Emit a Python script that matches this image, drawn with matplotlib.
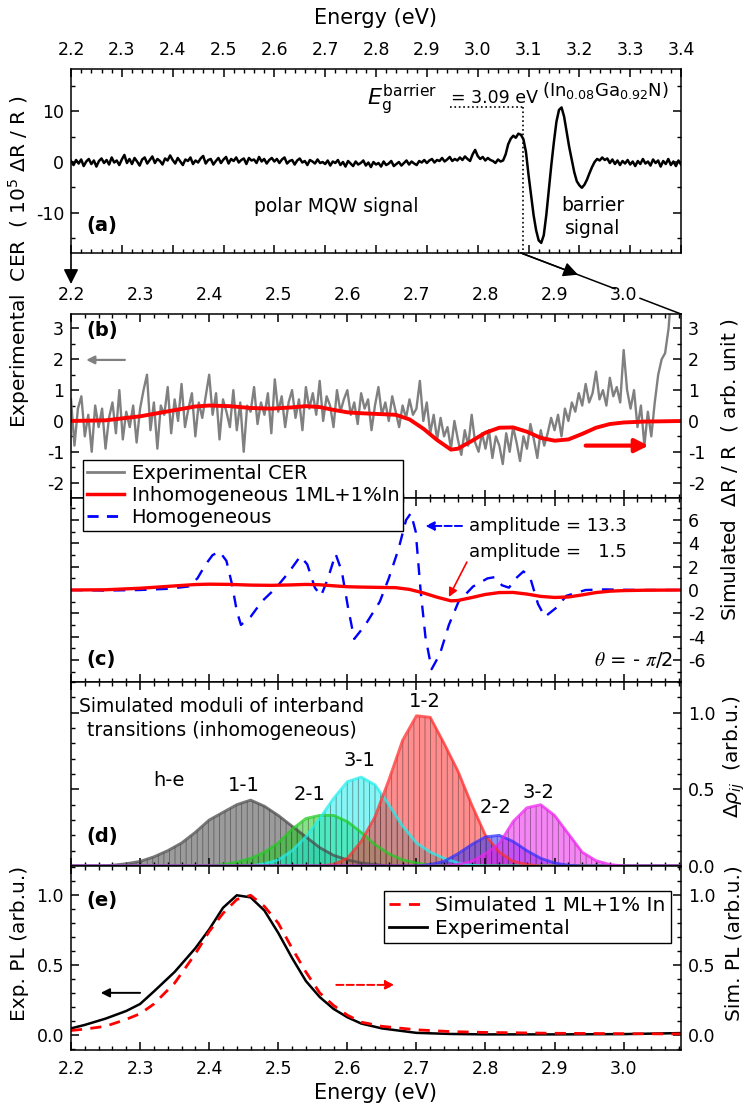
import matplotlib.pyplot as plt
import numpy as np
from matplotlib.lines import Line2D
from matplotlib.patches import FancyArrowPatch
from matplotlib.ticker import MultipleLocator

plt.rcParams['font.family'] = ['DejaVu Sans']
plt.rcParams['axes.unicode_minus'] = False
plt.rcParams['hatch.linewidth'] = 0.6
plt.rcParams['axes.linewidth'] = 1.1

# ---------------- data ----------------
# (a) experimental CER (1e-5 dR/R), 2.200 ... 3.400 eV, 5 meV step
cer_a = [0.2, -0.6, 0.4, -0.3, 0.5, -0.8, 0.1, 0.6, -0.4, 0.3, -0.9, 0.2, 0.7, -0.2, 0.4, -0.5, 0.9, -0.1, 0.3, -0.6,
         0.5, 1.4, -0.2, 0.6, -0.4, 0.8, 0.1, -0.7, 0.5, 0.9, -0.3, 0.4, 1.1, -0.2, 0.6, 0.2, -0.5, 0.7, 0.3, 1.3,
         0.4, -0.3, 0.8, 0.1, -0.6, 0.5, 0.2, 0.9, -0.4, 0.3, -0.1, 0.7, 1.2, -0.3, 0.4, 0.6, -0.5, 0.2, 0.8, -0.2,
         0.5, 1.0, -0.3, 0.6, 0.2, 0.9, -0.1, 0.4, 0.7, -0.4, 0.8, 0.3, 0.5, -0.2, 1.0, 0.1, 0.6, -0.3, 0.4, 0.8,
         0.1, 0.6, -0.2, 0.5, 0.9, -0.3, 0.2, 0.4, -0.5, 0.3, 0.7, -0.1, 0.2, -0.6, 0.4, 0.1, -0.3, 0.5, -0.2, 0.0,
         -0.4, 0.3, -0.7, 0.1, -0.2, 0.4, -0.6, 0.0, -0.9, 0.2, -0.3, -0.8, 0.1, -0.5, -0.2, 0.3, -0.7, -0.1, -1.0, 0.0,
         -0.5, -0.2, -0.9, 0.1, -0.6, -0.3, 0.2, -0.8, -0.4, 0.0, -0.7, -0.2, 0.3, -0.5, 0.1, -0.3, -0.6, 0.2, -0.1, 0.4,
         -0.2, 0.3, 0.6, -0.1, 0.4, 0.2, 0.8, 0.1, 0.5, 1.0, 0.2, 0.6, 0.3, 0.9, 0.4, 1.1, 0.6, 0.2, 1.5, 2.4,
         1.2, 0.6, 1.0, 0.3, 0.8, 0.4, 0.2, -0.2, 0.5, 0.1, 0.3, 1.5, 3.5, 4.6, 5.2, 4.8, 5.6, 5.4, 4.5, 2.0,
         -2.5, -6.5, -10.5, -13.5, -15.5, -16.0, -14.5, -10.5, -5.5, -0.5, 4.0, 8.0, 10.3, 10.8, 9.0, 6.0, 3.0, 0.5, -2.0, -3.8,
         -4.6, -5.1, -4.5, -3.5, -2.2, -1.0, 0.0, 0.6, 0.3, 0.9, 0.4, 0.7, -0.2, 0.5, -0.4, 0.3, -0.6, 0.2, -0.3, 0.4,
         -0.5, 0.1, -0.8, 0.2, -0.4, 0.6, -0.3, 0.1, -0.7, 0.5, -0.2, 0.3, -0.9, 0.2, -0.4, 0.6, -0.6, 0.1, -0.8, 0.3, -0.5]
energy_a = np.round(2.2 + 0.005 * np.arange(len(cer_a)), 3)
eg_barrier = 3.09

# (b) experimental CER zoomed, 2.200 ... 3.070 eV, 5 meV step
cer_b = [0.7, -0.8, 0.4, 0.8, -0.5, 0.2, -1.0, 0.5, -0.2, 0.4, -0.9, 0.1, 0.6, -0.4, 1.0, -0.6, 0.3, -0.2, 0.5, -0.7,
         0.4, 1.0, 1.5, -0.3, 0.6, -0.9, 0.5, 0.2, 1.1, -0.4, 0.7, 0.0, 1.2, -0.2, 0.4, 0.9, -0.5, 0.6, 0.1, 0.8,
         1.5, 0.2, 0.9, -0.6, 0.7, 0.3, -0.2, 1.0, -0.3, 0.6, -1.0, 0.5, 0.3, 1.1, -0.1, 0.6, 0.2, 0.9, -0.4, 1.35,
         0.3, 0.8, -0.2, 0.6, 1.0, 0.1, 0.7, -0.3, 1.1, 0.4, 0.9, 0.2, 1.3, 0.0, 0.8, 0.5, -0.2, 1.0, 0.3, 0.7,
         1.0, 0.2, 0.6, -0.1, 0.9, 0.4, 0.7, -0.3, 0.5, 1.1, 0.2, 0.6, 0.0, 0.8, 0.3, -0.2, 0.5, 0.1, 0.7, 0.2,
         0.4, 1.3, 0.0, 0.6, -0.4, 0.2, -0.6, 0.1, -0.5, -0.2, -0.9, 0.0, -0.6, -1.1, -0.3, -0.8, 0.2, -0.7, -1.0, -0.4,
         -0.9, -0.3, -1.2, -0.5, -0.8, -1.4, -0.4, -1.0, -0.2, -0.7, -1.3, -0.5, -0.9, -0.1, -0.6, -1.2, -0.3, -0.8, -0.4, 0.1,
         -0.3, 0.2, -0.5, 0.4, 0.0, 0.6, 0.3, 0.9, 0.5, 1.2, 0.6, 0.9, 1.6, 0.7, 1.0, 0.5, 1.4, 0.8, 1.1, 0.6,
         2.3, 1.0, 0.4, 1.0, -0.2, 0.5, -0.8, 0.3, -0.5, 0.6, 1.5, 2.0, 2.2, 3.0, 4.5]
energy_b = np.round(2.2 + 0.005 * np.arange(len(cer_b)), 3)

# simulated CER, inhomogeneous 1ML+1%In (b, c)
sim_E = [2.20, 2.25, 2.30, 2.35, 2.38, 2.40, 2.43, 2.46, 2.49, 2.52, 2.54, 2.56, 2.58, 2.60, 2.62, 2.65, 2.67, 2.69,
         2.71, 2.73, 2.75, 2.76, 2.78, 2.80, 2.82, 2.84, 2.86, 2.88, 2.90, 2.92, 2.94, 2.96, 2.98, 3.00, 3.03, 3.06, 3.09]
sim_inhom = [0.0, 0.02, 0.15, 0.35, 0.47, 0.50, 0.48, 0.42, 0.40, 0.44, 0.48, 0.45, 0.36, 0.28, 0.25, 0.22, 0.20, 0.05,
             -0.25, -0.62, -0.93, -0.90, -0.65, -0.38, -0.22, -0.21, -0.35, -0.55, -0.64, -0.60, -0.42, -0.22, -0.10,
             -0.05, -0.02, -0.01, 0.0]

# simulated CER, homogeneous (c)
hom_E = [2.20, 2.25, 2.30, 2.34, 2.37, 2.383, 2.395, 2.405, 2.415, 2.425, 2.433, 2.440, 2.446, 2.46, 2.476, 2.497,
         2.515, 2.532, 2.542, 2.553, 2.562, 2.572, 2.583, 2.592, 2.601, 2.610, 2.626, 2.647, 2.660, 2.674, 2.685,
         2.692, 2.699, 2.706, 2.713, 2.722, 2.734, 2.747, 2.761, 2.782, 2.803, 2.813, 2.824, 2.834, 2.844, 2.855,
         2.865, 2.876, 2.886, 2.903, 2.917, 2.945, 2.973, 3.02, 3.09]
hom_amp = [0.0, -0.05, 0.0, 0.1, 0.3, 1.0, 2.2, 3.0, 3.3, 2.5, 0.5, -1.8, -3.0, -2.3, -1.0, 0.2, 1.5, 2.9, 2.2, 0.2,
           -0.5, 1.0, 3.1, 1.6, -1.5, -4.2, -3.0, -1.0, 1.0, 3.5, 6.0, 6.6, 5.0, 0.0, -4.0, -6.8, -5.5, -3.0, -1.0,
           0.3, 1.0, 1.1, 0.4, 0.2, 1.0, 1.6, 1.0, -1.2, -2.3, -1.5, -0.5, 0.0, 0.05, 0.0, 0.0]

# (d) moduli of interband transitions, 2.20 ... 3.08 eV, 20 meV step
mod_E = np.round(2.2 + 0.02 * np.arange(45), 2)
mod_11 = [0, 0, 0, 0.005, 0.015, 0.03, 0.06, 0.10, 0.15, 0.22,
          0.30, 0.35, 0.40, 0.43, 0.39, 0.33, 0.26, 0.19, 0.12, 0.07,
          0.04, 0.02, 0.01, 0, 0, 0, 0, 0, 0, 0,
          0, 0, 0, 0, 0, 0, 0, 0, 0, 0, 0, 0, 0, 0, 0]
mod_21 = [0, 0, 0, 0, 0, 0, 0, 0, 0, 0,
          0, 0.01, 0.025, 0.05, 0.09, 0.15, 0.24, 0.31, 0.33, 0.33,
          0.29, 0.22, 0.14, 0.08, 0.04, 0.02, 0.005, 0, 0, 0,
          0, 0, 0, 0, 0, 0, 0, 0, 0, 0, 0, 0, 0, 0, 0]
mod_31 = [0, 0, 0, 0, 0, 0, 0, 0, 0, 0,
          0, 0, 0, 0, 0.015, 0.04, 0.10, 0.19, 0.31, 0.44,
          0.55, 0.58, 0.53, 0.40, 0.26, 0.15, 0.09, 0.05, 0.02, 0.005,
          0, 0, 0, 0, 0, 0, 0, 0, 0, 0, 0, 0, 0, 0, 0]
mod_12 = [0, 0, 0, 0, 0, 0, 0, 0, 0, 0,
          0, 0, 0, 0, 0, 0, 0, 0, 0, 0.01,
          0.05, 0.16, 0.32, 0.56, 0.82, 0.98, 0.97, 0.80, 0.62, 0.40,
          0.20, 0.09, 0.03, 0.01, 0, 0, 0, 0, 0, 0, 0, 0, 0, 0, 0]
mod_22 = [0, 0, 0, 0, 0, 0, 0, 0, 0, 0,
          0, 0, 0, 0, 0, 0, 0, 0, 0, 0,
          0, 0, 0, 0, 0, 0, 0.01, 0.03, 0.08, 0.14,
          0.19, 0.20, 0.16, 0.10, 0.05, 0.02, 0.005, 0, 0, 0, 0, 0, 0, 0, 0]
mod_32 = [0, 0, 0, 0, 0, 0, 0, 0, 0, 0,
          0, 0, 0, 0, 0, 0, 0, 0, 0, 0,
          0, 0, 0, 0, 0, 0, 0, 0, 0.01, 0.03,
          0.08, 0.145, 0.29, 0.38, 0.40, 0.33, 0.21, 0.09, 0.035, 0.01, 0, 0, 0, 0, 0]
mod_names = ['1-1', '2-1', '3-1', '1-2', '2-2', '3-2']

# (e) photoluminescence
pl_E = [2.20, 2.22, 2.25, 2.28, 2.30, 2.32, 2.35, 2.38, 2.40, 2.42, 2.44, 2.46, 2.48, 2.50, 2.52, 2.54, 2.56, 2.58,
        2.60, 2.62, 2.65, 2.70, 2.75, 2.80, 2.90, 3.00, 3.09]
pl_exp = [0.045, 0.07, 0.115, 0.17, 0.22, 0.31, 0.45, 0.62, 0.755, 0.91, 1.0, 0.985, 0.89, 0.73, 0.55, 0.385, 0.27,
          0.185, 0.125, 0.08, 0.045, 0.013, 0.005, 0.002, 0.002, 0.004, 0.012]
pl_sim = [0.03, 0.04, 0.06, 0.11, 0.15, 0.22, 0.37, 0.58, 0.74, 0.87, 0.97, 1.0, 0.92, 0.80, 0.62, 0.45, 0.30, 0.21,
          0.14, 0.09, 0.06, 0.035, 0.022, 0.016, 0.01, 0.007, 0.005]

# ---------------- figure ----------------
W, H = 750, 1110
fig = plt.figure(figsize=(W / 100, H / 100), dpi=100)


def fp(x, y):
    # image pixel -> figure fraction
    return (x / W, 1 - y / H)


def panel(top):
    return fig.add_axes([71 / W, 1 - (top + 184) / H, 610 / W, 184 / H])


def style(ax, ymaj, ymin, xmaj=0.1, xmin=0.02):
    ax.xaxis.set_major_locator(MultipleLocator(xmaj))
    ax.xaxis.set_minor_locator(MultipleLocator(xmin))
    ax.yaxis.set_major_locator(MultipleLocator(ymaj))
    ax.yaxis.set_minor_locator(MultipleLocator(ymin))
    ax.tick_params(which='both', direction='in', top=True, bottom=True, left=True, right=True, labelsize=12.5)
    ax.tick_params(which='major', length=6, width=1.1)
    ax.tick_params(which='minor', length=3, width=1.0)
    ax.tick_params(axis='x', which='both', pad=7)
    ax.tick_params(axis='y', which='both', pad=5)


ax_a = panel(69)
ax_b = panel(314)
ax_c = panel(498)
ax_d = panel(682)
ax_e = panel(866)
xr = (2.2, 3.083)

# (a)
ax_a.plot(energy_a, cer_a, color='k', lw=1.8)
ax_a.plot([2.945, eg_barrier], [10.8, 10.8], ls=':', color='k', lw=1.2)
ax_a.plot([eg_barrier, eg_barrier], [10.8, -18.5], ls=':', color='k', lw=1.2)
ax_a.set_xlim(2.2, 3.4)
ax_a.set_ylim(-18, 18.4)
style(ax_a, 10, 5)
ax_a.tick_params(labeltop=True, labelbottom=False)
ax_a.text(2.782, 11.3, r'$E_\mathrm{g}^\mathrm{barrier}$', fontsize=16, va='baseline')
ax_a.text(2.948, 11.6, '= 3.09 eV', fontsize=12.5, va='baseline')
ax_a.text(3.126, 13.0, r'(In$_{0.08}$Ga$_{0.92}$N)', fontsize=13, va='baseline')
ax_a.text(2.721, -8.9, 'polar MQW signal', fontsize=13.5, ha='center', va='center')
ax_a.text(3.227, -10.9, 'barrier\nsignal', fontsize=13.5, ha='center', va='center', linespacing=1.3)
ax_a.text(0.025, 0.15, '(a)', transform=ax_a.transAxes, fontsize=14, fontweight='bold', va='center')

# (b)
ax_b.plot(energy_b, cer_b, color='#808080', lw=1.7)
ax_b.plot(sim_E, sim_inhom, color='red', lw=2.8)
ax_b.set_xlim(*xr)
ax_b.set_ylim(-2.5, 3.47)
style(ax_b, 1, 0.5)
ax_b.tick_params(labeltop=True, labelbottom=False, labelright=True)
ax_b.text(0.025, 0.913, '(b)', transform=ax_b.transAxes, fontsize=14, fontweight='bold', va='center')
ax_b.annotate('', xy=(2.222, 1.98), xytext=(2.278, 1.98),
              arrowprops=dict(arrowstyle='-|>', color='#808080', lw=1.6, mutation_scale=12, shrinkA=0, shrinkB=0))
ax_b.annotate('', xy=(3.036, -0.8), xytext=(2.945, -0.8),
              arrowprops=dict(arrowstyle='-|>', color='red', lw=3, mutation_scale=20, shrinkA=0, shrinkB=0))

# (c)
ax_c.plot(hom_E, hom_amp, color='blue', lw=1.7, ls=(0, (5, 4)))
ax_c.plot(sim_E, sim_inhom, color='red', lw=2.4)
ax_c.set_xlim(*xr)
ax_c.set_ylim(-7.9, 7.9)
style(ax_c, 2, 1)
ax_c.tick_params(labelbottom=False, labelleft=False, labelright=True)
ax_c.text(0.025, 0.12, '(c)', transform=ax_c.transAxes, fontsize=14, fontweight='bold', va='center')
ax_c.text(0.988, 0.12, r'$\theta$ = - $\pi$/2', transform=ax_c.transAxes, fontsize=14, ha='right', va='center',
          math_fontfamily='stix')
ax_c.text(0.652, 0.848, 'amplitude = 13.3', transform=ax_c.transAxes, fontsize=13, va='center')
ax_c.text(0.652, 0.707, 'amplitude =   1.5', transform=ax_c.transAxes, fontsize=13, va='center')
ax_c.annotate('', xy=(2.713, 5.5), xytext=(2.766, 5.5),
              arrowprops=dict(arrowstyle='-|>', color='blue', lw=1.4, ls='--', mutation_scale=13, shrinkA=0, shrinkB=0))
ax_c.annotate('', xy=(2.747, -0.6), xytext=(2.773, 2.4),
              arrowprops=dict(arrowstyle='-|>', color='red', lw=1.2, mutation_scale=13, shrinkA=0, shrinkB=0))

# (d)
mod_colors = ['#4a4a4a', '#22cc22', '#22eeee', '#ff3030', '#3030ff', '#ee22ee']
mod_text_pos = [(2.450, 0.525), (2.545, 0.466), (2.618, 0.689), (2.712, 1.075), (2.814, 0.380), (2.877, 0.479)]
for vals, col, name, pos in zip([mod_11, mod_21, mod_31, mod_12, mod_22, mod_32], mod_colors, mod_names, mod_text_pos):
    ax_d.fill_between(mod_E, vals, color=col, alpha=0.55, lw=0)
    ax_d.fill_between(mod_E, vals, facecolor='none', edgecolor=(0.15, 0.15, 0.15, 0.5), hatch='|||', lw=0)
    ax_d.plot(mod_E, vals, color=col, lw=2, alpha=0.75)
    ax_d.text(pos[0], pos[1], name, fontsize=14, ha='center', va='center')
ax_d.axhline(0, color='#8a48d0', lw=2)
ax_d.set_xlim(*xr)
ax_d.set_ylim(0, 1.2)
style(ax_d, 0.5, 0.1)
ax_d.tick_params(labelbottom=False, labelleft=False, labelright=True)
ax_d.text(2.342, 0.557, 'h-e', fontsize=14, ha='center', va='center')
ax_d.text(2.418, 0.96, 'Simulated moduli of interband\ntransitions (inhomogeneous)', fontsize=13.5,
          ha='center', va='center', linespacing=1.35)
ax_d.text(0.025, 0.158, '(d)', transform=ax_d.transAxes, fontsize=14, fontweight='bold', va='center')

# (e)
ax_e.plot(pl_E, pl_exp, color='k', lw=1.8)
ax_e.plot(pl_E, pl_sim, color='red', lw=2, ls=(0, (4, 3)))
ax_e.set_xlim(*xr)
ax_e.set_ylim(-0.11, 1.21)
style(ax_e, 0.5, 0.1)
ax_e.tick_params(labelright=True)
ax_e.text(0.025, 0.815, '(e)', transform=ax_e.transAxes, fontsize=14, fontweight='bold', va='center')
ax_e.annotate('', xy=(2.243, 0.30), xytext=(2.300, 0.30),
              arrowprops=dict(arrowstyle='-|>', color='k', lw=1.4, mutation_scale=13, shrinkA=0, shrinkB=0))
ax_e.annotate('', xy=(2.668, 0.357), xytext=(2.584, 0.357),
              arrowprops=dict(arrowstyle='-|>', color='red', lw=1.4, ls='--', mutation_scale=13, shrinkA=0, shrinkB=0))

# zoom indicator between (a) and (b)
fig.add_artist(FancyArrowPatch(fp(71, 253), fp(71, 284), transform=fig.transFigure, arrowstyle='-|>',
                               mutation_scale=22, color='k', lw=1.2, shrinkA=0, shrinkB=0))
fig.add_artist(Line2D([521 / W, 615 / W], [1 - 253 / H, 1 - 288.8 / H], transform=fig.transFigure, color='k', lw=1.1))
fig.add_artist(Line2D([640 / W, 681 / W], [1 - 298.3 / H, 1 - 314 / H], transform=fig.transFigure, color='k', lw=1.1))
fig.add_artist(FancyArrowPatch(fp(521, 253), fp(578, 274.7), transform=fig.transFigure, arrowstyle='-|>',
                               mutation_scale=22, color='k', lw=1.1, shrinkA=0, shrinkB=0))

# legends
leg1 = fig.legend([Line2D([], [], color='#808080', lw=2), Line2D([], [], color='red', lw=2.5),
                   Line2D([], [], color='blue', lw=2, ls=(0, (4, 3)))],
                  ['Experimental CER', 'Inhomogeneous 1ML+1%In', 'Homogeneous'],
                  loc='upper left', bbox_to_anchor=fp(83, 460), fontsize=14, frameon=True, fancybox=False,
                  edgecolor='k', framealpha=1, handlelength=1.9, handletextpad=0.4, borderpad=0.2,
                  labelspacing=0.15, borderaxespad=0)
leg1.get_frame().set_linewidth(1.0)
leg2 = fig.legend([Line2D([], [], color='red', lw=2, ls=(0, (4, 3))), Line2D([], [], color='k', lw=2)],
                  ['Simulated 1 ML+1% In', 'Experimental'],
                  loc='upper left', bbox_to_anchor=fp(384, 891), fontsize=14.5, frameon=True, fancybox=False,
                  edgecolor='k', framealpha=1, handlelength=1.9, handletextpad=0.4, borderpad=0.25,
                  labelspacing=0.2, borderaxespad=0)
leg2.get_frame().set_linewidth(1.0)

# axis titles
fig.text(*fp(376, 18), 'Energy (eV)', fontsize=15, ha='center', va='center')
fig.text(*fp(376, 1093), 'Energy (eV)', fontsize=15, ha='center', va='center')
fig.text(*fp(19, 262), r'Experimental  CER  ( 10$^{5}$ $\Delta$R / R )', fontsize=14.5, rotation=90,
         ha='center', va='center')
fig.text(*fp(730, 470), r'Simulated  $\Delta$R / R  ( arb. unit )', fontsize=14.5, rotation=90,
         ha='center', va='center')
fig.text(*fp(734, 757), r'$\Delta\rho_{ij}$  (arb.u.)', fontsize=14.5, rotation=90, ha='center', va='center')
fig.text(*fp(20, 943), 'Exp. PL (arb.u.)', fontsize=14.5, rotation=90, ha='center', va='center')
fig.text(*fp(734, 943), 'Sim. PL (arb.u.)', fontsize=14.5, rotation=90, ha='center', va='center')

fig.savefig('out.png', dpi=100)
